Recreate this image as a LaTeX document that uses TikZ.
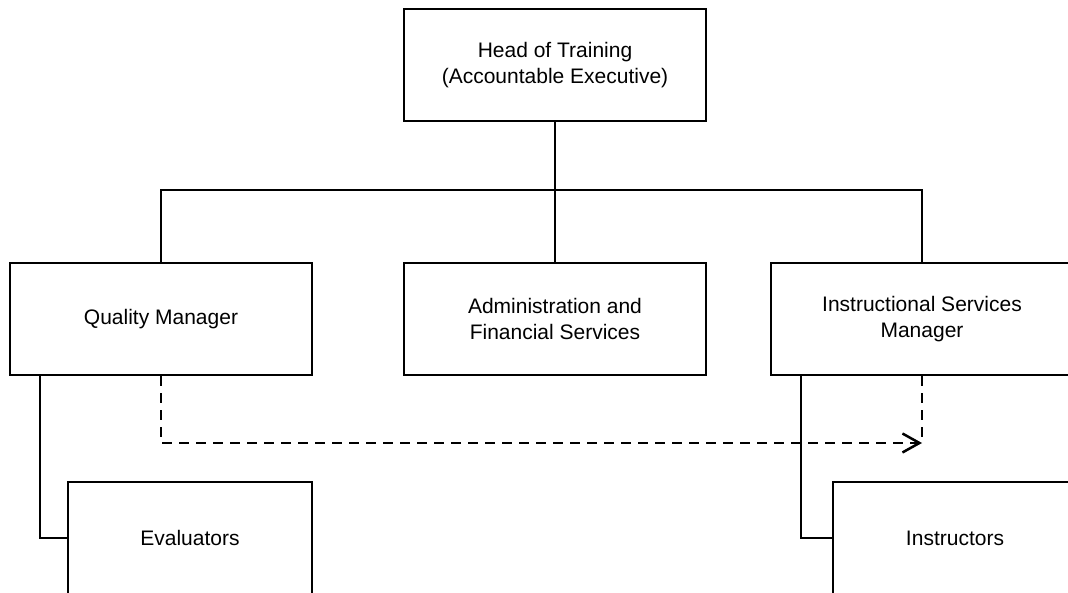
\documentclass[tikz,border=0pt]{standalone}
\usepackage{fontspec}
\setmainfont{Liberation Sans}
\usetikzlibrary{arrows.meta}
\usetikzlibrary{calc}

\tikzset{
	unit/.style={draw, line width=2.5pt, minimum width=302pt, minimum height=112pt,
		align=center, inner sep=0pt, font=\fontsize{21}{26}\selectfont},
	staff/.style={unit, minimum width=244pt},
	link/.style={line width=2.5pt},
	report/.style={line width=2.5pt, dash pattern=on 10pt off 7pt,
		-{Straight Barb[length=17pt, width=19pt, line width=2.5pt]}}
}

\begin{document}
\begin{tikzpicture}[x=1pt, y=1pt]
	\useasboundingbox (0,0) rectangle (1068,593);
	\clip (0,0) rectangle (1068,593);
	
	\def\bus{403} % height of the bus line
	\def\dash{150} % height of the dashed line
	
	% boxes
	\node[unit] (head) at (555,528) {Head of Training\\(Accountable Executive)};
	\node[unit] (qm) at (161,274) {Quality Manager};
	\node[unit] (admin) at (555,274) {Administration and\\Financial Services};
	\node[unit] (ism) at (922,274) {Instructional Services\\Manager};
	\node[staff] (eval) at (190,55) {Evaluators};
	\node[staff] (instr) at (955,55) {Instructors};
	
	% bus from the head
	\coordinate (B) at (head.south |- 0,\bus);
	\draw[link] (head.south) -- (B);
	\draw[link] (qm.north) |- (B) -| (ism.north);
	\draw[link] (B) -- (admin.north);
	
	% staff under each manager
	\coordinate (QL) at ($(qm.south west)+(31,0)$);
	\coordinate (IL) at ($(ism.south west)+(31,0)$);
	\draw[link] (QL) |- (eval.west);
	\draw[link] (IL) |- (instr.west);
	
	% dashed line quality -> instructional
	\coordinate (D) at (ism.south |- 0,\dash);
	\draw[report] (qm.south) |- (D);
	\draw[link, dash pattern=on 10pt off 7pt] (ism.south) -- (D);
\end{tikzpicture}
\end{document}
